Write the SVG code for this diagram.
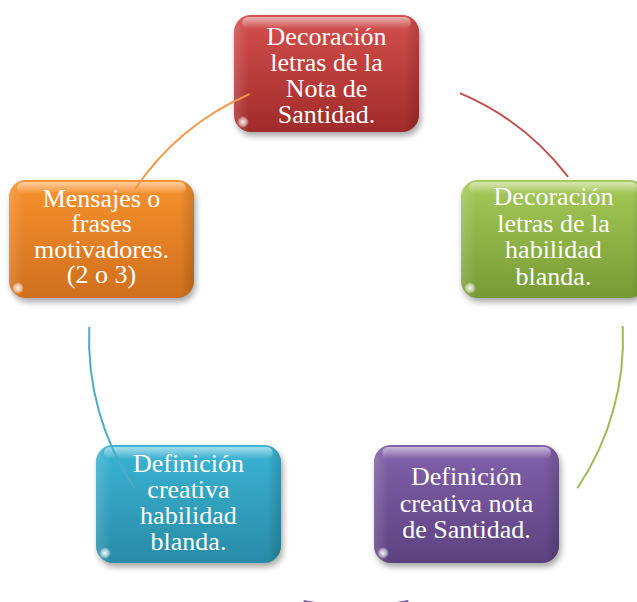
<svg xmlns="http://www.w3.org/2000/svg" width="637" height="602" viewBox="0 0 637 602">
<style>
.lbl{font-family:"Liberation Serif","Times New Roman",serif;font-size:26px;fill:#ffffff;text-anchor:middle}
.arc{fill:none;stroke-width:2}
.shadow{fill:#000;opacity:0.35;filter:url(#blur)}
.hl{fill:url(#gHi)}
.side{fill:url(#gSide)}
.glint{fill:url(#gGlint)}
</style>
<defs>
<filter id="blur" x="-20%" y="-20%" width="140%" height="140%"><feGaussianBlur stdDeviation="3"/></filter>
<linearGradient id="gRed" x1="0" y1="0" x2="0" y2="1"><stop offset="0" stop-color="#d4504d"/><stop offset="1" stop-color="#a02b2a"/></linearGradient>
<linearGradient id="gGreen" x1="0" y1="0" x2="0" y2="1"><stop offset="0" stop-color="#a6ca58"/><stop offset="1" stop-color="#789a35"/></linearGradient>
<linearGradient id="gOrange" x1="0" y1="0" x2="0" y2="1"><stop offset="0" stop-color="#f8922e"/><stop offset="1" stop-color="#d06f1d"/></linearGradient>
<linearGradient id="gCyan" x1="0" y1="0" x2="0" y2="1"><stop offset="0" stop-color="#3bb5d5"/><stop offset="1" stop-color="#288ba7"/></linearGradient>
<linearGradient id="gPurple" x1="0" y1="0" x2="0" y2="1"><stop offset="0" stop-color="#8261ab"/><stop offset="1" stop-color="#5d4281"/></linearGradient>
<linearGradient id="gHi" x1="0" y1="0" x2="0" y2="1"><stop offset="0" stop-color="#fff" stop-opacity="0.55"/><stop offset="1" stop-color="#fff" stop-opacity="0"/></linearGradient>
<linearGradient id="gSide" x1="0" y1="0" x2="1" y2="0"><stop offset="0" stop-color="#fff" stop-opacity="0.15"/><stop offset="0.08" stop-color="#fff" stop-opacity="0"/><stop offset="0.92" stop-color="#000" stop-opacity="0"/><stop offset="1" stop-color="#000" stop-opacity="0.15"/></linearGradient>
<radialGradient id="gGlint"><stop offset="0" stop-color="#fff" stop-opacity="0.95"/><stop offset="0.6" stop-color="#fff" stop-opacity="0.5"/><stop offset="1" stop-color="#fff" stop-opacity="0"/></radialGradient>
</defs>

<g id="node-red">
<rect class="shadow" x="236" y="19" width="185" height="117" rx="17"/>
<rect x="234" y="15" width="185" height="117" rx="17" fill="url(#gRed)"/>
<rect class="side" x="234" y="15" width="185" height="117" rx="17"/>
<rect class="hl" x="242" y="17" width="169" height="12" rx="6"/>
<ellipse class="glint" cx="243" cy="122" rx="6" ry="6"/>
<text class="lbl" x="326.5" y="44.5">Decoración</text>
<text class="lbl" x="326.5" y="70.8">letras de la</text>
<text class="lbl" x="326.5" y="97.1">Nota de</text>
<text class="lbl" x="326.5" y="123.4">Santidad.</text>
</g>

<g id="node-green">
<rect class="shadow" x="463" y="184" width="185" height="118" rx="17"/>
<rect x="461" y="180" width="185" height="118" rx="17" fill="url(#gGreen)"/>
<rect class="side" x="461" y="180" width="185" height="118" rx="17"/>
<rect class="hl" x="469" y="182" width="169" height="12" rx="6"/>
<ellipse class="glint" cx="470" cy="288" rx="6" ry="6"/>
<text class="lbl" x="553.5" y="205">Decoración</text>
<text class="lbl" x="553.5" y="231.7">letras de la</text>
<text class="lbl" x="553.5" y="258.3">habilidad</text>
<text class="lbl" x="553.5" y="285">blanda.</text>
</g>

<g id="node-orange">
<rect class="shadow" x="11" y="184" width="185" height="118" rx="17"/>
<rect x="9" y="180" width="185" height="118" rx="17" fill="url(#gOrange)"/>
<rect class="side" x="9" y="180" width="185" height="118" rx="17"/>
<rect class="hl" x="17" y="182" width="169" height="12" rx="6"/>
<ellipse class="glint" cx="18" cy="288" rx="6" ry="6"/>
<text class="lbl" x="101.5" y="206.5">Mensajes o</text>
<text class="lbl" x="101.5" y="232">frases</text>
<text class="lbl" x="101.5" y="257.5">motivadores.</text>
<text class="lbl" x="101.5" y="283">(2 o 3)</text>
</g>

<g id="node-purple">
<rect class="shadow" x="376" y="449" width="185" height="118" rx="17"/>
<rect x="374" y="445" width="185" height="118" rx="17" fill="url(#gPurple)"/>
<rect class="side" x="374" y="445" width="185" height="118" rx="17"/>
<rect class="hl" x="382" y="447" width="169" height="12" rx="6"/>
<ellipse class="glint" cx="383" cy="553" rx="6" ry="6"/>
<text class="lbl" x="466.5" y="485">Definición</text>
<text class="lbl" x="466.5" y="511.5">creativa nota</text>
<text class="lbl" x="466.5" y="538">de Santidad.</text>
</g>

<g id="node-cyan">
<rect class="shadow" x="98" y="449" width="185" height="118" rx="17"/>
<rect x="96" y="445" width="185" height="118" rx="17" fill="url(#gCyan)"/>
<rect class="side" x="96" y="445" width="185" height="118" rx="17"/>
<rect class="hl" x="104" y="447" width="169" height="12" rx="6"/>
<ellipse class="glint" cx="105" cy="553" rx="6" ry="6"/>
<text class="lbl" x="188.5" y="472">Definición</text>
<text class="lbl" x="188.5" y="498">creativa</text>
<text class="lbl" x="188.5" y="524">habilidad</text>
<text class="lbl" x="188.5" y="550">blanda.</text>
</g>

<g id="connectors">
<path class="arc" stroke="#c0504d" d="M459.9,93.1 A267,267 0 0 1 568.1,176.8"/>
<path class="arc" stroke="#9bbb59" d="M622.7,326 A267,267 0 0 1 577.3,488.3"/>
<path class="arc" stroke="#8064a2" d="M408.3,600.9 A267,267 0 0 1 303.7,600.9"/>
<path class="arc" stroke="#4bacc6" d="M134.6,488.3 A267,267 0 0 1 89.3,326.9"/>
<path class="arc" stroke="#f79646" d="M134.6,189.7 A267,267 0 0 1 249.5,94.2"/>
</g>
</svg>
